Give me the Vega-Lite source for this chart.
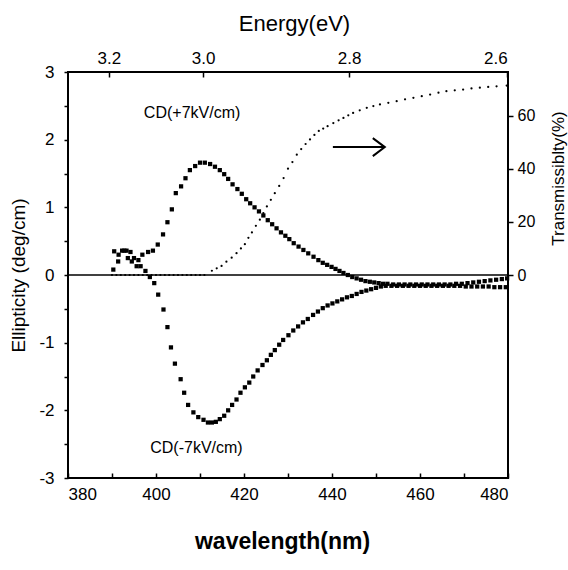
{
  "$schema": "https://vega.github.io/schema/vega-lite/v6.json",
  "width": 440,
  "height": 406,
  "autosize": {"type": "none"},
  "padding": {"left": 68, "top": 72, "right": 60, "bottom": 92},
  "background": "white",
  "config": {
    "view": {"stroke": "black", "strokeWidth": 2},
    "font": "Liberation Sans",
    "axis": {"domain": false, "grid": false, "labelColor": "black", "tickColor": "black", "titleColor": "black", "labelFont": "Liberation Sans", "titleFont": "Liberation Sans", "labelFontSize": 16, "titleFontWeight": "normal", "tickWidth": 1.5}
  },
  "datasets": {
    "cd": [
      {"s": "plus", "wl": 390.3, "e": 0.08}, {"s": "plus", "wl": 391.4, "e": 0.2}, {"s": "plus", "wl": 392.3, "e": 0.36}, {"s": "plus", "wl": 393.3, "e": 0.36}, {"s": "plus", "wl": 394.2, "e": 0.34}, {"s": "plus", "wl": 395.0, "e": 0.25}, {"s": "plus", "wl": 396.0, "e": 0.22}, {"s": "plus", "wl": 396.9, "e": 0.3}, {"s": "plus", "wl": 398.2, "e": 0.34}, {"s": "plus", "wl": 399.3, "e": 0.36}, {"s": "plus", "wl": 400.4, "e": 0.45}, {"s": "plus", "wl": 401.6, "e": 0.6}, {"s": "plus", "wl": 402.6, "e": 0.78}, {"s": "plus", "wl": 403.6, "e": 0.97}, {"s": "plus", "wl": 404.5, "e": 1.21}, {"s": "plus", "wl": 405.7, "e": 1.31}, {"s": "plus", "wl": 406.7, "e": 1.43}, {"s": "plus", "wl": 407.7, "e": 1.55}, {"s": "plus", "wl": 408.9, "e": 1.61}, {"s": "plus", "wl": 410.0, "e": 1.66}, {"s": "plus", "wl": 411.1, "e": 1.66}, {"s": "plus", "wl": 412.3, "e": 1.64}, {"s": "plus", "wl": 413.4, "e": 1.6}, {"s": "plus", "wl": 414.5, "e": 1.55}, {"s": "plus", "wl": 415.5, "e": 1.49}, {"s": "plus", "wl": 416.4, "e": 1.42}, {"s": "plus", "wl": 417.4, "e": 1.34}, {"s": "plus", "wl": 418.5, "e": 1.27}, {"s": "plus", "wl": 419.5, "e": 1.2}, {"s": "plus", "wl": 420.5, "e": 1.12}, {"s": "plus", "wl": 421.4, "e": 1.06}, {"s": "plus", "wl": 422.4, "e": 1.0}, {"s": "plus", "wl": 423.4, "e": 0.94}, {"s": "plus", "wl": 424.4, "e": 0.88}, {"s": "plus", "wl": 425.4, "e": 0.81}, {"s": "plus", "wl": 426.4, "e": 0.75}, {"s": "plus", "wl": 427.4, "e": 0.69}, {"s": "plus", "wl": 428.4, "e": 0.63}, {"s": "plus", "wl": 429.4, "e": 0.58}, {"s": "plus", "wl": 430.3, "e": 0.53}, {"s": "plus", "wl": 431.3, "e": 0.47}, {"s": "plus", "wl": 432.4, "e": 0.42}, {"s": "plus", "wl": 433.5, "e": 0.37}, {"s": "plus", "wl": 434.6, "e": 0.32}, {"s": "plus", "wl": 435.8, "e": 0.27}, {"s": "plus", "wl": 436.9, "e": 0.22}, {"s": "plus", "wl": 437.9, "e": 0.18}, {"s": "plus", "wl": 438.9, "e": 0.15}, {"s": "plus", "wl": 439.9, "e": 0.12}, {"s": "plus", "wl": 440.8, "e": 0.09}, {"s": "plus", "wl": 441.7, "e": 0.06}, {"s": "plus", "wl": 442.6, "e": 0.03}, {"s": "plus", "wl": 443.6, "e": 0.0}, {"s": "plus", "wl": 444.6, "e": -0.03}, {"s": "plus", "wl": 445.6, "e": -0.05}, {"s": "plus", "wl": 446.6, "e": -0.07}, {"s": "plus", "wl": 447.6, "e": -0.09}, {"s": "plus", "wl": 448.6, "e": -0.1}, {"s": "plus", "wl": 449.6, "e": -0.11}, {"s": "plus", "wl": 450.6, "e": -0.12}, {"s": "plus", "wl": 451.6, "e": -0.13}, {"s": "plus", "wl": 452.6, "e": -0.13}, {"s": "plus", "wl": 453.9, "e": -0.14}, {"s": "plus", "wl": 455.2, "e": -0.14}, {"s": "plus", "wl": 456.5, "e": -0.14}, {"s": "plus", "wl": 457.8, "e": -0.14}, {"s": "plus", "wl": 459.1, "e": -0.14}, {"s": "plus", "wl": 460.4, "e": -0.14}, {"s": "plus", "wl": 461.7, "e": -0.14}, {"s": "plus", "wl": 463.0, "e": -0.14}, {"s": "plus", "wl": 464.3, "e": -0.14}, {"s": "plus", "wl": 465.6, "e": -0.14}, {"s": "plus", "wl": 466.9, "e": -0.14}, {"s": "plus", "wl": 468.2, "e": -0.13}, {"s": "plus", "wl": 469.5, "e": -0.13}, {"s": "plus", "wl": 470.8, "e": -0.12}, {"s": "plus", "wl": 472.1, "e": -0.11}, {"s": "plus", "wl": 473.4, "e": -0.1}, {"s": "plus", "wl": 474.7, "e": -0.09}, {"s": "plus", "wl": 476.0, "e": -0.08}, {"s": "plus", "wl": 477.3, "e": -0.07}, {"s": "plus", "wl": 478.6, "e": -0.06}, {"s": "plus", "wl": 479.8, "e": -0.05},
      {"s": "minus", "wl": 390.5, "e": 0.35}, {"s": "minus", "wl": 391.5, "e": 0.3}, {"s": "minus", "wl": 392.8, "e": 0.36}, {"s": "minus", "wl": 393.6, "e": 0.25}, {"s": "minus", "wl": 394.5, "e": 0.2}, {"s": "minus", "wl": 395.6, "e": 0.13}, {"s": "minus", "wl": 396.5, "e": 0.13}, {"s": "minus", "wl": 397.6, "e": 0.06}, {"s": "minus", "wl": 398.6, "e": -0.03}, {"s": "minus", "wl": 399.6, "e": -0.12}, {"s": "minus", "wl": 400.5, "e": -0.29}, {"s": "minus", "wl": 401.7, "e": -0.51}, {"s": "minus", "wl": 402.6, "e": -0.77}, {"s": "minus", "wl": 403.4, "e": -1.07}, {"s": "minus", "wl": 404.3, "e": -1.31}, {"s": "minus", "wl": 405.6, "e": -1.54}, {"s": "minus", "wl": 406.4, "e": -1.74}, {"s": "minus", "wl": 407.3, "e": -1.92}, {"s": "minus", "wl": 408.5, "e": -2.03}, {"s": "minus", "wl": 409.6, "e": -2.1}, {"s": "minus", "wl": 410.8, "e": -2.14}, {"s": "minus", "wl": 411.8, "e": -2.18}, {"s": "minus", "wl": 412.7, "e": -2.18}, {"s": "minus", "wl": 413.6, "e": -2.17}, {"s": "minus", "wl": 414.5, "e": -2.13}, {"s": "minus", "wl": 415.5, "e": -2.08}, {"s": "minus", "wl": 416.4, "e": -2.0}, {"s": "minus", "wl": 417.3, "e": -1.92}, {"s": "minus", "wl": 418.3, "e": -1.84}, {"s": "minus", "wl": 419.2, "e": -1.74}, {"s": "minus", "wl": 420.2, "e": -1.66}, {"s": "minus", "wl": 421.2, "e": -1.59}, {"s": "minus", "wl": 422.1, "e": -1.5}, {"s": "minus", "wl": 423.1, "e": -1.41}, {"s": "minus", "wl": 424.2, "e": -1.33}, {"s": "minus", "wl": 425.2, "e": -1.26}, {"s": "minus", "wl": 426.1, "e": -1.18}, {"s": "minus", "wl": 427.0, "e": -1.11}, {"s": "minus", "wl": 428.0, "e": -1.03}, {"s": "minus", "wl": 428.9, "e": -0.96}, {"s": "minus", "wl": 430.1, "e": -0.89}, {"s": "minus", "wl": 431.2, "e": -0.82}, {"s": "minus", "wl": 432.3, "e": -0.76}, {"s": "minus", "wl": 433.4, "e": -0.7}, {"s": "minus", "wl": 434.5, "e": -0.65}, {"s": "minus", "wl": 435.7, "e": -0.59}, {"s": "minus", "wl": 436.8, "e": -0.54}, {"s": "minus", "wl": 437.9, "e": -0.49}, {"s": "minus", "wl": 439.0, "e": -0.45}, {"s": "minus", "wl": 440.1, "e": -0.42}, {"s": "minus", "wl": 441.2, "e": -0.39}, {"s": "minus", "wl": 442.3, "e": -0.36}, {"s": "minus", "wl": 443.4, "e": -0.33}, {"s": "minus", "wl": 444.5, "e": -0.31}, {"s": "minus", "wl": 445.6, "e": -0.28}, {"s": "minus", "wl": 446.7, "e": -0.25}, {"s": "minus", "wl": 447.8, "e": -0.23}, {"s": "minus", "wl": 448.9, "e": -0.21}, {"s": "minus", "wl": 450.0, "e": -0.19}, {"s": "minus", "wl": 451.1, "e": -0.17}, {"s": "minus", "wl": 452.2, "e": -0.16}, {"s": "minus", "wl": 453.5, "e": -0.16}, {"s": "minus", "wl": 454.8, "e": -0.16}, {"s": "minus", "wl": 456.1, "e": -0.16}, {"s": "minus", "wl": 457.4, "e": -0.16}, {"s": "minus", "wl": 458.7, "e": -0.16}, {"s": "minus", "wl": 460.0, "e": -0.16}, {"s": "minus", "wl": 461.3, "e": -0.16}, {"s": "minus", "wl": 462.6, "e": -0.16}, {"s": "minus", "wl": 463.9, "e": -0.16}, {"s": "minus", "wl": 465.2, "e": -0.16}, {"s": "minus", "wl": 466.5, "e": -0.16}, {"s": "minus", "wl": 467.8, "e": -0.16}, {"s": "minus", "wl": 469.1, "e": -0.16}, {"s": "minus", "wl": 470.4, "e": -0.17}, {"s": "minus", "wl": 471.7, "e": -0.17}, {"s": "minus", "wl": 473.0, "e": -0.17}, {"s": "minus", "wl": 474.3, "e": -0.17}, {"s": "minus", "wl": 475.6, "e": -0.17}, {"s": "minus", "wl": 476.9, "e": -0.18}, {"s": "minus", "wl": 478.2, "e": -0.18}, {"s": "minus", "wl": 479.5, "e": -0.18}
    ],
    "trans": [
      {"wl": 390, "t": 0}, {"wl": 391, "t": 0}, {"wl": 392, "t": 0}, {"wl": 393, "t": 0}, {"wl": 394, "t": 0}, {"wl": 395, "t": 0}, {"wl": 396, "t": 0}, {"wl": 397, "t": 0}, {"wl": 398, "t": 0}, {"wl": 399, "t": 0}, {"wl": 400, "t": 0}, {"wl": 401, "t": 0}, {"wl": 402, "t": 0}, {"wl": 403, "t": 0}, {"wl": 404, "t": 0}, {"wl": 405, "t": 0}, {"wl": 406, "t": 0}, {"wl": 407, "t": 0}, {"wl": 408, "t": 0}, {"wl": 409, "t": 0}, {"wl": 410, "t": 0}, {"wl": 411, "t": 0},
      {"wl": 412.7, "t": 1.6}, {"wl": 413.8, "t": 2.5}, {"wl": 414.9, "t": 3.4}, {"wl": 416.0, "t": 5}, {"wl": 417.2, "t": 6.5}, {"wl": 418.3, "t": 8.2}, {"wl": 419.3, "t": 10}, {"wl": 420.2, "t": 11.6}, {"wl": 421.0, "t": 14}, {"wl": 421.8, "t": 16}, {"wl": 422.7, "t": 18.5}, {"wl": 423.6, "t": 20.8}, {"wl": 424.4, "t": 23.3}, {"wl": 425.2, "t": 25.8}, {"wl": 426.1, "t": 28.3}, {"wl": 427.0, "t": 30.8}, {"wl": 428.0, "t": 33.5}, {"wl": 429.0, "t": 36.5}, {"wl": 430.0, "t": 40}, {"wl": 431.0, "t": 42.5}, {"wl": 432.0, "t": 45.3}, {"wl": 433.0, "t": 47.4}, {"wl": 434.0, "t": 49.3}, {"wl": 435.0, "t": 51}, {"wl": 436.0, "t": 52.7}, {"wl": 437.0, "t": 54.2}, {"wl": 438.0, "t": 55.1}, {"wl": 439.0, "t": 56}, {"wl": 440.3, "t": 57.2}, {"wl": 441.5, "t": 58.2}, {"wl": 442.6, "t": 59.1}, {"wl": 443.7, "t": 60.1}, {"wl": 444.8, "t": 61}, {"wl": 446.3, "t": 62}, {"wl": 447.9, "t": 62.9}, {"wl": 449.4, "t": 63.6}, {"wl": 450.9, "t": 64.2}, {"wl": 452.8, "t": 64.8}, {"wl": 454.7, "t": 65.4}, {"wl": 456.6, "t": 66.1}, {"wl": 458.5, "t": 66.7}, {"wl": 460.4, "t": 67.3}, {"wl": 462.3, "t": 67.9}, {"wl": 464.2, "t": 68.6}, {"wl": 466.0, "t": 69.2}, {"wl": 467.9, "t": 69.5}, {"wl": 469.8, "t": 69.8}, {"wl": 471.7, "t": 70.2}, {"wl": 473.6, "t": 70.5}, {"wl": 475.5, "t": 70.8}, {"wl": 477.4, "t": 71}, {"wl": 479.7, "t": 71.3}
    ],
    "labels": [
      {"wl": 408.2, "e": 2.39, "txt": "CD(+7kV/cm)"},
      {"wl": 409.2, "e": -2.55, "txt": "CD(-7kV/cm)"}
    ],
    "arrow": [{"wl": 440.2, "wl2": 452, "e": 1.89}],
    "energy": [
      {"wl": 389.3, "ev": "3.2"}, {"wl": 410.7, "ev": "3.0"}, {"wl": 443.9, "ev": "2.8"}, {"wl": 479.8, "ev": "2.6"}
    ]
  },
  "resolve": {"scale": {"x": "independent", "y": "independent"}},
  "layer": [
    {
      "data": {"name": "trans"},
      "mark": {"type": "point", "shape": "circle", "filled": true, "size": 5, "color": "black", "opacity": 1},
      "encoding": {
        "x": {"field": "wl", "type": "quantitative", "scale": {"domain": [380, 480], "nice": false, "zero": false}, "axis": null},
        "y": {"field": "t", "type": "quantitative", "scale": {"domain": [-76.4, 76.4], "nice": false, "zero": false},
          "axis": {"orient": "right", "values": [0, 20, 40, 60], "tickSize": 5, "labelPadding": 4, "title": "Transmissiblty(%)", "titleFontSize": 17, "titleAngle": 270, "titleX": 50, "titleY": 106, "titleAlign": "center", "titleBaseline": "middle"}}
      }
    },
    {
      "data": {"name": "cd"},
      "mark": {"type": "point", "shape": "square", "filled": true, "size": 18, "color": "black", "opacity": 1},
      "encoding": {
        "x": {"field": "wl", "type": "quantitative", "scale": {"domain": [380, 480], "nice": false, "zero": false},
          "axis": {"orient": "bottom", "values": [380, 390, 400, 410, 420, 430, 440, 450, 460, 470, 480], "labelExpr": "datum.value % 20 == 0 ? datum.label : ''", "tickSize": -5, "labelPadding": 13, "labelFontSize": 17, "title": "wavelength(nm)", "titleFontSize": 23, "titleFontWeight": "bold", "titlePadding": 28, "titleX": 214}},
        "y": {"field": "e", "type": "quantitative", "scale": {"domain": [-3, 3], "nice": false, "zero": false},
          "axis": {"orient": "left", "values": [-3, -2.5, -2, -1.5, -1, -0.5, 0, 0.5, 1, 1.5, 2, 2.5, 3], "labelExpr": "datum.value % 1 == 0 ? toString(datum.value) : ''", "tickSize": 4, "labelPadding": 10, "labelFontSize": 17, "title": "Ellipticity (deg/cm)", "titleFontSize": 19, "titlePadding": 10}},
        "detail": {"field": "s"}
      }
    },
    {
      "data": {"values": [{"e": 0}]},
      "mark": {"type": "rule", "color": "black", "strokeWidth": 1.5},
      "encoding": {
        "y": {"field": "e", "type": "quantitative", "scale": {"domain": [-3, 3], "nice": false, "zero": false}, "axis": null}
      }
    },
    {
      "data": {"name": "labels"},
      "mark": {"type": "text", "font": "Liberation Sans", "fontSize": 16, "color": "black", "align": "center", "baseline": "middle"},
      "encoding": {
        "x": {"field": "wl", "type": "quantitative", "scale": {"domain": [380, 480], "nice": false, "zero": false}, "axis": null},
        "y": {"field": "e", "type": "quantitative", "scale": {"domain": [-3, 3], "nice": false, "zero": false}, "axis": null},
        "text": {"field": "txt"}
      }
    },
    {
      "data": {"name": "arrow"},
      "mark": {"type": "rule", "color": "black", "strokeWidth": 2},
      "encoding": {
        "x": {"field": "wl", "type": "quantitative", "scale": {"domain": [380, 480], "nice": false, "zero": false}, "axis": null},
        "x2": {"field": "wl2"},
        "y": {"field": "e", "type": "quantitative", "scale": {"domain": [-3, 3], "nice": false, "zero": false}, "axis": null}
      }
    },
    {
      "data": {"name": "arrow"},
      "mark": {"type": "point", "shape": "M-1,-0.75L0,0L-1,0.75", "filled": false, "size": 576, "stroke": "black", "strokeWidth": 2, "opacity": 1},
      "encoding": {
        "x": {"field": "wl2", "type": "quantitative", "scale": {"domain": [380, 480], "nice": false, "zero": false}, "axis": null},
        "y": {"field": "e", "type": "quantitative", "scale": {"domain": [-3, 3], "nice": false, "zero": false}, "axis": null}
      }
    },
    {
      "data": {"name": "energy"},
      "mark": {"type": "point", "opacity": 0},
      "encoding": {
        "x": {"field": "wl", "type": "quantitative", "scale": {"domain": [380, 480], "nice": false, "zero": false},
          "axis": {"orient": "top", "values": [389.3, 410.7, 443.9, 479.8], "labelExpr": "datum.value < 400 ? '3.2' : datum.value < 420 ? '3.0' : datum.value < 460 ? '2.8' : '2.6'", "tickSize": -5, "labelPadding": 10, "labelFontSize": 17, "title": "Energy(eV)", "titleFontSize": 22, "titlePadding": 14, "titleX": 226}}
      }
    }
  ]
}
